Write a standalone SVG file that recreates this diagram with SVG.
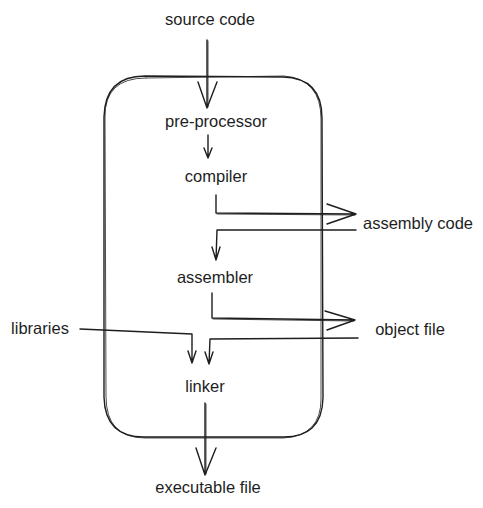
<svg xmlns="http://www.w3.org/2000/svg" width="483" height="508" viewBox="0 0 483 508">
<style>
text{font-family:"Liberation Sans","DejaVu Sans",sans-serif;font-size:16.5px;fill:#1e1e1e;text-anchor:middle}
.s{fill:none;stroke:#1e1e1e;stroke-width:1.4;stroke-linecap:round;stroke-linejoin:round}
.t{fill:none;stroke:#1e1e1e;stroke-width:0.8;stroke-linecap:round}
</style>
<rect width="483" height="508" fill="#ffffff"/>
<g id="box">
<path class="s" d="M145 76 L283 77 Q322 78 322 118 L323 398 Q322 438 282 437 L144 437 Q105 437 104 397 L104 117 Q105 76 145 76 Z"/>
<path class="t" d="M146 78 L284 76 Q321 79 321 119 L321 399 Q321 436 283 438 L145 438 Q106 438 106 396 L105 118 Q104 78 146 78"/>
</g>
<g id="source-code"><text x="210" y="25">source code</text></g>
<g id="pre-processor"><text x="216" y="127">pre-processor</text></g>
<g id="compiler"><text x="216" y="182">compiler</text></g>
<g id="assembly-code"><text x="418" y="229">assembly code</text></g>
<g id="assembler"><text x="215" y="283">assembler</text></g>
<g id="object-file"><text x="410" y="335">object file</text></g>
<g id="libraries"><text x="40" y="334">libraries</text></g>
<g id="linker"><text x="205" y="392">linker</text></g>
<g id="executable-file"><text x="208" y="493">executable file</text></g>
<g id="connectors">
<path class="s" d="M207 40 L207 108 M198 82 L207 108 L217 82"/>
<path class="t" d="M208 41 L208 107"/>
<path class="s" d="M208 135 L208 158 M204 148 L208 158 L212 148"/>
<path class="s" d="M216 195 L216 213 L356 214 M327 204 L356 214 L327 224"/>
<path class="t" d="M217 214 L355 215"/>
<path class="s" d="M356 230 L217 230 L216 260 M212 247 L216 260 L220 247"/>
<path class="s" d="M212 293 L212 318 L355 320 M325 311 L355 320 L327 330"/>
<path class="t" d="M213 319 L354 321"/>
<path class="s" d="M358 338 L210 339 L209 364 M205 352 L209 364 L213 352"/>
<path class="s" d="M80 329 L192 334 L192 363 M188 351 L192 363 L196 351"/>
<path class="s" d="M205 403 L205 475 M196 448 L205 475 L216 448"/>
<path class="t" d="M206 404 L206 474"/>
</g>
</svg>
